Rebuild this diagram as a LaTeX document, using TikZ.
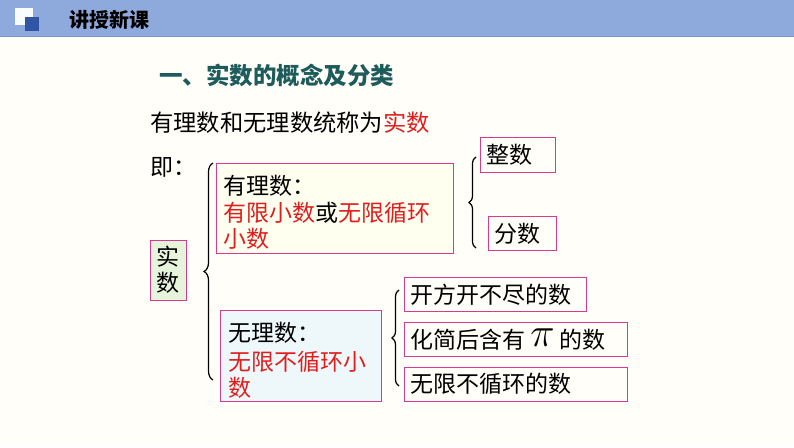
\documentclass[tikz,border=0pt]{standalone}
\usepackage{fontspec}
\setmainfont{Noto Sans CJK SC}
\usetikzlibrary{decorations.pathreplacing}
\definecolor{bg}{HTML}{FFFEF8}
\definecolor{hdr}{HTML}{8EA9DB}
\definecolor{hdrline}{HTML}{7F95C6}
\definecolor{dkblue}{HTML}{2F55A4}
\definecolor{teal}{HTML}{1E5B5B}
\definecolor{pinkb}{HTML}{D93A8C}
\definecolor{redt}{HTML}{E01E1E}
\definecolor{greenf}{HTML}{E6F4DC}
\definecolor{yellowf}{HTML}{FFFFF0}
\definecolor{bluef}{HTML}{EEF8FA}
\tikzset{
  box/.style={draw=pinkb, line width=1.4pt, anchor=north west, inner sep=0pt},
  txt/.style={anchor=west, inner sep=0pt, font=\fontsize{23}{27}\selectfont},
  brc/.style={decorate, decoration={brace, amplitude=7pt}, line width=1.2pt}
}
\begin{document}
\begin{tikzpicture}[x=1pt,y=-1pt]
\useasboundingbox (0,0) rectangle (794,447);
\fill[bg] (0,0) rectangle (794,447);
% header
\fill[hdr] (0,0) rectangle (794,36);
\draw[hdrline, line width=1pt] (0,36) -- (794,36);
\fill[white!95!hdr] (15,8) rectangle (33,25);
\fill[dkblue] (25,17) rectangle (39,31);
\node[anchor=west, inner sep=0pt, font=\fontsize{20}{24}\selectfont\bfseries] (hd) at (69,20) {讲授新课};
% titles
\node[anchor=west, inner sep=0pt, font=\fontsize{23.5}{27}\selectfont\bfseries, text=teal] (t1) at (159,75) {一、实数的概念及分类};
\node[txt, font=\fontsize{23.3}{27}\selectfont] (t2) at (150,123) {有理数和无理数统称为\textcolor{redt}{实数}};
\node[txt] (t3) at (150,167) {即：};
% shiji box
\node[box, fill=greenf, minimum width=36pt, minimum height=60pt] (sb) at (150,240) {};
\node[txt, anchor=center] (s1) at (168,257) {实};
\node[txt, anchor=center] (s2) at (168,283) {数};
% big brace
\coordinate (b1t) at (213,163);
\coordinate (b1b) at (213,380);
\draw[brc, decoration={amplitude=9pt}] (b1b) -- (b1t);
% rational box
\node[box, fill=yellowf, minimum width=237pt, minimum height=90pt] (rb) at (216,163) {};
\node[txt] (r1) at (223,186) {有理数：};
\node[txt, text=redt] (r2) at (223,213) {有限小数\textcolor{black}{或}无限循环};
\node[txt, text=redt] (r3) at (223,239) {小数};
% brace 2
\coordinate (b2t) at (476,157);
\coordinate (b2b) at (476,248);
\draw[brc] (b2b) -- (b2t);
\node[box, fill=bg, minimum width=75pt, minimum height=35pt] (zb) at (480,137) {};
\node[txt] (z1) at (486,155) {整数};
\node[box, fill=bg, minimum width=68pt, minimum height=34pt] (fb) at (488,216) {};
\node[txt] (f1) at (494,234) {分数};
% irrational box
\node[box, fill=bluef, minimum width=161pt, minimum height=91pt] (ib) at (220,310) {};
\node[txt] (i1) at (228,333) {无理数：};
\node[txt, text=redt] (i2) at (228,362) {无限不循环小};
\node[txt, text=redt] (i3) at (228,388) {数};
% brace 3
\coordinate (b3t) at (399,290);
\coordinate (b3b) at (399,386);
\draw[brc] (b3b) -- (b3t);
\node[box, fill=bg, minimum width=182pt, minimum height=34pt] (k1) at (404,277) {};
\node[txt] (k1t) at (410,295) {开方开不尽的数};
\node[box, fill=bg, minimum width=223pt, minimum height=34pt] (k2) at (404,322) {};
\node[txt] (k2t) at (410,340) {化简后含有 \raisebox{2pt}{\scalebox{1.65}{$\pi$}} 的数};
\node[box, fill=bg, minimum width=223pt, minimum height=34pt] (k3) at (404,367) {};
\node[txt] (k3t) at (410,384) {无限不循环的数};
\end{tikzpicture}
\end{document}
